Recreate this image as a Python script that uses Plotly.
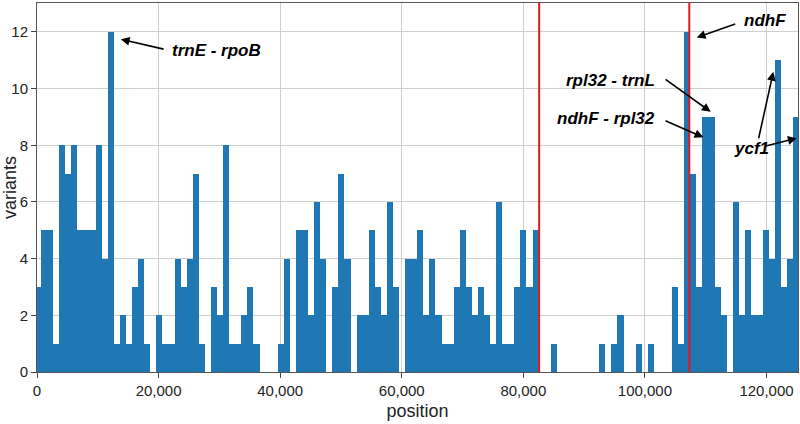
import numpy as np
import plotly.graph_objects as go

# ---- data: variant counts per ~1 kb window along the plastome ----
bin_start = 672      # left edge of the first full window
bin_width = 998      # window width (bp)
counts = [
    3, 5, 5, 1, 8, 7, 8, 5, 5, 5,
    8, 4, 12, 1, 2, 1, 3, 4, 1, 0,
    2, 1, 1, 4, 3, 4, 7, 1, 0, 3,
    2, 8, 1, 1, 2, 3, 1, 0, 0, 0,
    1, 4, 0, 5, 5, 2, 6, 4, 0, 3,
    7, 4, 0, 2, 2, 5, 3, 2, 6, 3,
    0, 4, 4, 5, 2, 4, 2, 1, 1, 3,
    5, 3, 2, 3, 2, 1, 6, 1, 1, 3,
    5, 3, 5, 0, 0, 1, 0, 0, 0, 0,
    0, 0, 0, 1, 0, 1, 2, 0, 0, 1,
    0, 1, 0, 0, 0, 3, 1, 12, 7, 3,
    9, 9, 3, 2, 0, 6, 2, 5, 2, 2,
    5, 4, 11, 3, 4, 9,
]
region_bounds = [82600, 107300]          # IR boundaries (red lines)
x_ticks = [0, 20000, 40000, 60000, 80000, 100000, 120000]
y_ticks = [0, 2, 4, 6, 8, 10, 12]

# labels: (text, x, y, xanchor)
labels = [
    ("trnE - rpoB", 21800, 11.36, "left"),
    ("ndhF", 116000, 12.40, "left"),
    ("rpl32 - trnL", 101940, 10.30, "right"),
    ("ndhF - rpl32", 101940, 8.96, "right"),
    ("ycf1", 114280, 7.90, "left"),
]
# arrows: (tail_x, tail_y, head_x, head_y)
arrows = [
    (21070, 11.38, 13780, 11.74),
    (115100, 12.30, 108520, 11.80),
    (103140, 10.36, 110820, 9.18),
    (103140, 8.89, 109610, 8.28),
    (118650, 8.19, 121120, 10.59),
    (119470, 7.95, 124960, 8.25),
]

idx = np.arange(len(counts))
centers = bin_start + bin_width * (idx - 0.5)

fig = go.Figure()
fig.add_trace(go.Bar(
    x=centers, y=counts, width=[bin_width] * len(counts),
    marker=dict(color="#1f77b4", line=dict(width=0)),
    hoverinfo="x+y",
))

for xb in region_bounds:
    fig.add_shape(type="line", x0=xb, x1=xb, y0=0, y1=1, xref="x", yref="paper",
                  line=dict(color="#e3171f", width=2))

ann_font = dict(family="Liberation Sans, Arial, sans-serif", size=17, color="black")
for text, x, y, xa in labels:
    fig.add_annotation(x=x, y=y, text="<b><i>%s</i></b>" % text, showarrow=False,
                       xanchor=xa, yanchor="middle", font=ann_font)
for tx, ty, hx, hy in arrows:
    fig.add_annotation(x=hx, y=hy, ax=tx, ay=ty, axref="x", ayref="y", text="",
                       showarrow=True, arrowhead=2, arrowsize=1.1, arrowwidth=1.6,
                       arrowcolor="black", standoff=0, startstandoff=0)

tick_font = dict(family="Liberation Sans, Arial, sans-serif", size=15, color="#222")
title_font = dict(family="Liberation Sans, Arial, sans-serif", size=18, color="#222")

fig.update_layout(
    width=800, height=424,
    margin=dict(l=37, r=2, t=3, b=52),
    paper_bgcolor="white", plot_bgcolor="white",
    bargap=0, showlegend=False,
    xaxis=dict(range=[0, 125180], tickvals=x_ticks, tickformat=",", ticks="outside",
               ticklen=5, tickcolor="#444", showgrid=True, gridcolor="#cfcfcf", gridwidth=1,
               zeroline=False, showline=True, linecolor="#555", linewidth=1, mirror=True,
               automargin=False,
               tickfont=tick_font, title=dict(text="position", font=title_font, standoff=6)),
    yaxis=dict(range=[0, 13.02], tickvals=y_ticks, ticks="outside", ticklen=5,
               tickcolor="#444", showgrid=True, gridcolor="#cfcfcf", gridwidth=1,
               zeroline=False, showline=True, linecolor="#555", linewidth=1, mirror=True,
               automargin=False,
               tickfont=tick_font, title=dict(text="variants", font=title_font, standoff=2)),
)

fig.write_html("out.html", config={"displayModeBar": False},
               post_script="document.body.style.margin='0';document.body.style.padding='0';")
